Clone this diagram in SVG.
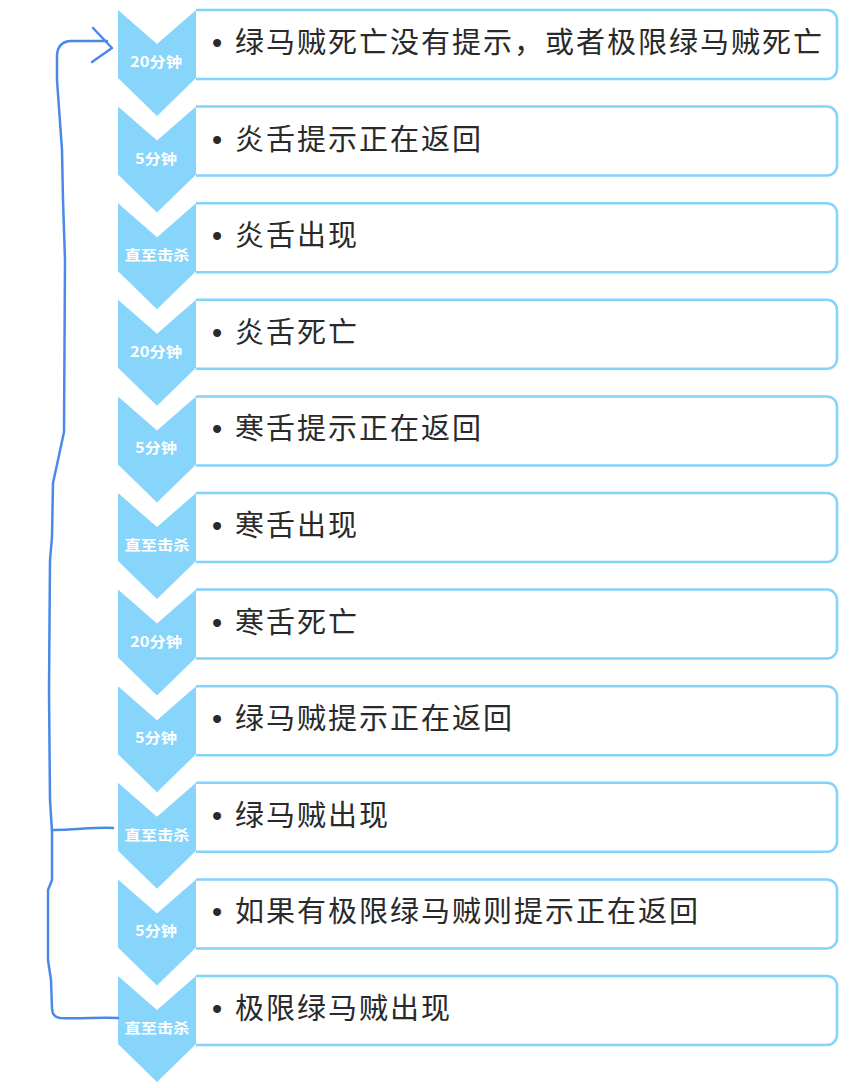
<svg xmlns="http://www.w3.org/2000/svg" xmlns:xlink="http://www.w3.org/1999/xlink" width="857" height="1088" viewBox="0 0 857 1088">
<style>
.box{fill:#ffffff;stroke:#84d3fb;stroke-width:2.5}
.chev{fill:#88d5fc}
.lbl{font-family:"Noto Sans CJK SC","Liberation Sans",sans-serif;font-size:14px;font-weight:bold;fill:#ffffff;text-anchor:middle}
.t{font-family:"Noto Sans CJK SC","Liberation Sans",sans-serif;font-size:29px;fill:#2a2a2a;letter-spacing:2px}
.b{font-family:"Liberation Sans",sans-serif;letter-spacing:0}
.con{fill:none;stroke:#4a8ae6;stroke-width:2.5;stroke-linecap:round;stroke-linejoin:round}
</style>
<defs>
<path id="boxp" d="M196,0 H827 A10,10 0 0 1 837,10 V59 A10,10 0 0 1 827,69 H196"/>
<path id="chevp" d="M118,0 L157,34 L196,0 L196,68 L157,106 L118,68 Z"/>
</defs>
<rect width="857" height="1088" fill="#ffffff"/>
<g id="node1" transform="translate(0,10)"><use xlink:href="#boxp" class="box"/><use xlink:href="#chevp" class="chev"/><text class="lbl" x="156" y="57" textLength="52" lengthAdjust="spacingAndGlyphs">20分钟</text><text class="t" y="43"><tspan class="b" x="212">•</tspan><tspan x="235">绿马贼死亡没有提示，或者极限绿马贼死亡</tspan></text></g>
<g id="node2" transform="translate(0,106.6)"><use xlink:href="#boxp" class="box"/><use xlink:href="#chevp" class="chev"/><text class="lbl" x="156" y="57" textLength="42" lengthAdjust="spacingAndGlyphs">5分钟</text><text class="t" y="43"><tspan class="b" x="212">•</tspan><tspan x="235">炎舌提示正在返回</tspan></text></g>
<g id="node3" transform="translate(0,203.2)"><use xlink:href="#boxp" class="box"/><use xlink:href="#chevp" class="chev"/><text class="lbl" x="157" y="57" textLength="65" lengthAdjust="spacingAndGlyphs">直至击杀</text><text class="t" y="43"><tspan class="b" x="212">•</tspan><tspan x="235">炎舌出现</tspan></text></g>
<g id="node4" transform="translate(0,299.8)"><use xlink:href="#boxp" class="box"/><use xlink:href="#chevp" class="chev"/><text class="lbl" x="156" y="57" textLength="52" lengthAdjust="spacingAndGlyphs">20分钟</text><text class="t" y="43"><tspan class="b" x="212">•</tspan><tspan x="235">炎舌死亡</tspan></text></g>
<g id="node5" transform="translate(0,396.4)"><use xlink:href="#boxp" class="box"/><use xlink:href="#chevp" class="chev"/><text class="lbl" x="156" y="57" textLength="42" lengthAdjust="spacingAndGlyphs">5分钟</text><text class="t" y="43"><tspan class="b" x="212">•</tspan><tspan x="235">寒舌提示正在返回</tspan></text></g>
<g id="node6" transform="translate(0,493)"><use xlink:href="#boxp" class="box"/><use xlink:href="#chevp" class="chev"/><text class="lbl" x="157" y="57" textLength="65" lengthAdjust="spacingAndGlyphs">直至击杀</text><text class="t" y="43"><tspan class="b" x="212">•</tspan><tspan x="235">寒舌出现</tspan></text></g>
<g id="node7" transform="translate(0,589.6)"><use xlink:href="#boxp" class="box"/><use xlink:href="#chevp" class="chev"/><text class="lbl" x="156" y="57" textLength="52" lengthAdjust="spacingAndGlyphs">20分钟</text><text class="t" y="43"><tspan class="b" x="212">•</tspan><tspan x="235">寒舌死亡</tspan></text></g>
<g id="node8" transform="translate(0,686.2)"><use xlink:href="#boxp" class="box"/><use xlink:href="#chevp" class="chev"/><text class="lbl" x="156" y="57" textLength="42" lengthAdjust="spacingAndGlyphs">5分钟</text><text class="t" y="43"><tspan class="b" x="212">•</tspan><tspan x="235">绿马贼提示正在返回</tspan></text></g>
<g id="node9" transform="translate(0,782.8)"><use xlink:href="#boxp" class="box"/><use xlink:href="#chevp" class="chev"/><text class="lbl" x="157" y="57" textLength="65" lengthAdjust="spacingAndGlyphs">直至击杀</text><text class="t" y="43"><tspan class="b" x="212">•</tspan><tspan x="235">绿马贼出现</tspan></text></g>
<g id="node10" transform="translate(0,879.4)"><use xlink:href="#boxp" class="box"/><use xlink:href="#chevp" class="chev"/><text class="lbl" x="156" y="57" textLength="42" lengthAdjust="spacingAndGlyphs">5分钟</text><text class="t" y="43"><tspan class="b" x="212">•</tspan><tspan x="235">如果有极限绿马贼则提示正在返回</tspan></text></g>
<g id="node11" transform="translate(0,976)"><use xlink:href="#boxp" class="box"/><use xlink:href="#chevp" class="chev"/><text class="lbl" x="157" y="57" textLength="65" lengthAdjust="spacingAndGlyphs">直至击杀</text><text class="t" y="43"><tspan class="b" x="212">•</tspan><tspan x="235">极限绿马贼出现</tspan></text></g>
<g id="connectors">
<path class="con" d="M118,1018 C100,1017 80,1019 60,1018 Q52,1017 52,1008 L51,980 48,960 48,890 52,880 52,832 L50,800 49,690 50,560 52,537 53,483 L58,460 64,432 65,260 63,200 62,150 57,80 57,55 Q58,42 70,41 L107,41"/>
<path class="con" d="M93,28 L112,48 L92,62"/>
<path class="con" d="M113,828 C95,827 75,830 53,830"/>
</g>
</svg>
